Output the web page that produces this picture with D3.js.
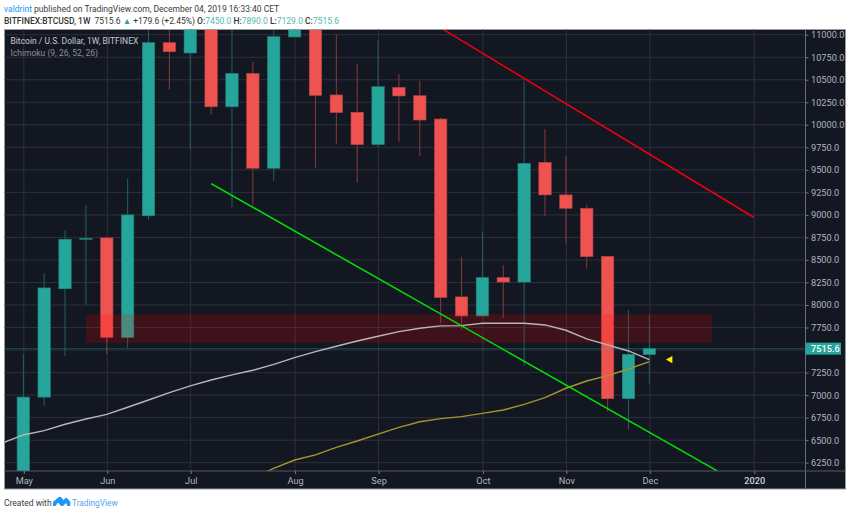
<!DOCTYPE html>
<html><head><meta charset="utf-8">
<script src="https://cdnjs.cloudflare.com/ajax/libs/d3/7.8.5/d3.min.js"></script>
<style>
html,body{margin:0;padding:0;background:#fff}
svg{display:block}
text{font-family:Roboto,sans-serif}
</style></head><body><svg id="c" width="850" height="514"></svg>
<script>
// weekly bars, index 0 = week of 2019-05-06
const weeks=["2019-05-06","2019-05-13","2019-05-20","2019-05-27","2019-06-03","2019-06-10","2019-06-17","2019-06-24","2019-07-01","2019-07-08","2019-07-15","2019-07-22","2019-07-29","2019-08-05","2019-08-12","2019-08-19","2019-08-26","2019-09-02","2019-09-09","2019-09-16","2019-09-23","2019-09-30","2019-10-07","2019-10-14","2019-10-21","2019-10-28","2019-11-04","2019-11-11","2019-11-18","2019-11-25","2019-12-02"];
const opens =[5750,6978,8180,8730,8745,7640,8990,10912,10797,11400,10200,10570,9518,10975,11400,10331,10139,9780,10415,10323,10064,8090,7878,8305,8255,9583,9222,9073,8540,6960,7450];
const closes=[6978,8190,8730,8740,7640,9000,10912,10811,11400,10200,10570,9518,10978,11400,10327,10135,9780,10423,10320,10053,8083,7878,8305,8255,9572,9222,9073,8536,6960,7453,7515.6];
const highs =[7455,8350,8830,9110,8745,9405,11300,11400,11500,11500,11500,10697,11400,11800,11500,10998,10675,10937,10563,10490,10078,8535,8820,8440,10490,9953,9652,9113,8540,7942,7890];
const lows  =[5700,6880,7430,8000,7455,7520,8945,10390,9725,10116,9085,9103,9375,10975,9525,9783,9358,9750,9812,9654,7795,7730,7878,7855,7325,8983,8686,8405,6815,6615,7129];
const whiteIdx=[-1,0,1,2,3,4,5,6,7,8,9,10,11,12,13,14,15,16,17,18,19,20,21,22,23,24,25,26,27,28,29,30];
const whiteLine=[6470,6558,6606,6677,6735,6787,6865,6946,7028,7102,7168,7224,7276,7342,7416,7483,7542,7601,7653,7705,7742,7768,7771,7797,7797,7797,7779,7720,7624,7557,7490,7394];
const yellowIdx=[11,12,13,14,15,16,17,18,19,20,21,22,23,24,25,26,27,28,29,30];
const yellowLine=[6077,6188,6280,6336,6420,6491,6568,6642,6705,6739,6761,6798,6835,6898,6972,7076,7157,7216,7290,7372];
const priceTicks=[6250,6500,6750,7000,7250,7500,7750,8000,8250,8500,8750,9000,9250,9500,9750,10000,10250,10500,10750,11000];
const timeTickIdx=[0,4,8,13,17,22,26,30,35];
const timeTickLabels=["May","Jun","Jul","Aug","Sep","Oct","Nov","Dec","2020"];
const greenTrend=[[9,9347],[33.25,6160]];
const redTrend=[[20.12,11059],[35,8974]];
const zoneIdx=[3,33], zonePrice=[7580,7897];
const lastPrice=7515.6, markerPoint=[31,7394];

const svg=d3.select("#c");
const L=4.5,R=805.5,T=29.5,B=471,BB=489,RR=845.5;
const x=d3.scaleLinear().domain([0,35]).range([23.3,753.7]);
const y=d3.scaleLinear().domain([6250,11000]).range([462.7,34.7]);
const UP="#26a69a",DN="#ef5350";

svg.append("rect").attr("x",L).attr("y",T).attr("width",RR-L).attr("height",BB-T).attr("fill","#131722").attr("stroke","#9a9ca3").attr("stroke-width",1);
svg.append("defs").append("clipPath").attr("id","p").append("rect").attr("x",L+.5).attr("y",T+.5).attr("width",R-L-.5).attr("height",B-T-.5);

// grid
const G=svg.append("g");
G.selectAll("line.h").data(priceTicks).join("line").attr("x1",L).attr("x2",R).attr("y1",d=>y(d)).attr("y2",d=>y(d)).attr("stroke","#2d313c");
G.selectAll("line.v").data(timeTickIdx).join("line").attr("y1",T).attr("y2",B).attr("x1",d=>x(d)+.5).attr("x2",d=>x(d)+.5).attr("stroke","#2d313c");

const P=svg.append("g").attr("clip-path","url(#p)");
const n=weeks.map((w,i)=>i);
P.selectAll("line.w").data(n).join("line").attr("x1",i=>x(i)).attr("x2",i=>x(i)).attr("y1",i=>y(highs[i])).attr("y2",i=>y(lows[i]))
 .attr("stroke",i=>closes[i]>=opens[i]?"#22615f":"#8a3a3d").attr("stroke-width",1);
P.selectAll("rect.b").data(n).join("rect").attr("x",i=>x(i)-6.2).attr("width",12.4)
 .attr("y",i=>y(Math.max(opens[i],closes[i]))).attr("height",i=>Math.max(1,Math.abs(y(opens[i])-y(closes[i]))))
 .attr("fill",i=>closes[i]>=opens[i]?UP:DN).attr("stroke",i=>closes[i]>=opens[i]?"#22807a":"#b84244").attr("stroke-width",.6);

// zone
P.append("rect").attr("x",x(zoneIdx[0])).attr("width",x(zoneIdx[1])-x(zoneIdx[0])).attr("y",y(zonePrice[1])).attr("height",y(zonePrice[0])-y(zonePrice[1])).attr("fill","rgba(255,0,0,0.18)");

// last price
P.append("line").attr("x1",L).attr("x2",R).attr("y1",y(lastPrice)).attr("y2",y(lastPrice)).attr("stroke","#26a69a").attr("stroke-opacity",.75).attr("stroke-dasharray","1 1");

// indicator lines
const ln=d3.line().x(d=>x(d[0])).y(d=>y(d[1]));
P.append("path").attr("d",ln(whiteIdx.map((k,i)=>[k,whiteLine[i]]))).attr("fill","none").attr("stroke","#b9b6bb").attr("stroke-width",1.4);
P.append("path").attr("d",ln(yellowIdx.map((k,i)=>[k,yellowLine[i]]))).attr("fill","none").attr("stroke","#a8942e").attr("stroke-width",1.4);
P.append("path").attr("d",ln(greenTrend)).attr("fill","none").attr("stroke","#00e600").attr("stroke-width",1.5);
P.append("path").attr("d",ln(redTrend)).attr("fill","none").attr("stroke","#f0000a").attr("stroke-width",1.5);
P.append("path").attr("d",d3.symbol().type(d3.symbolTriangle).size(24)()).attr("transform",`translate(${x(markerPoint[0])},${y(markerPoint[1])}) rotate(-90)`).attr("fill","#ffea00");

// axes
const yAxis=d3.axisRight(y).tickValues(priceTicks).tickSize(3).tickFormat(d3.format(".1f"));
const ya=svg.append("g").attr("transform",`translate(${R},0)`).call(yAxis);
ya.select(".domain").remove();
ya.selectAll("line").attr("stroke","#787b86");
ya.selectAll("text").attr("fill","#b2b5be").attr("font-size",9.2).attr("x",5.5);
svg.append("line").attr("x1",R).attr("x2",R).attr("y1",T).attr("y2",BB).attr("stroke","#6a6d78");
svg.append("line").attr("x1",L).attr("x2",RR).attr("y1",B).attr("y2",B).attr("stroke","#55585f");
const xAxis=d3.axisBottom(x).tickValues(timeTickIdx).tickSize(3).tickFormat((d,i)=>timeTickLabels[i]);
const xa=svg.append("g").attr("transform",`translate(0.5,${B})`).call(xAxis);
xa.select(".domain").remove();
xa.selectAll("line").attr("stroke","#787b86");
xa.selectAll("text").attr("fill",(d,i)=>timeTickLabels[i]==="2020"?"#d1d4dc":"#b2b5be").attr("font-size",9.2).attr("y",6).attr("font-weight",(d,i)=>timeTickLabels[i]==="2020"?500:400);

// price label
const py=y(lastPrice);
svg.append("rect").attr("x",R).attr("y",py-6).attr("width",35.5).attr("height",12).attr("fill","#26a69a");
svg.append("text").attr("x",R+5.5).attr("y",py+3.2).attr("fill","#fff").attr("font-size",9.2).attr("font-weight",500).text(lastPrice.toFixed(1));

// legends in chart
svg.append("text").attr("x",10.5).attr("y",44).attr("fill","#c8cad2").attr("font-size",8.5).text("Bitcoin / U.S. Dollar, 1W, BITFINEX");
svg.append("text").attr("x",10.5).attr("y",56).attr("fill","#8b8e98").attr("font-size",8.5).text("Ichimoku (9, 26, 52, 26)");

// header
const h1=svg.append("text").attr("x",4).attr("y",12).attr("font-size",8.5).attr("fill","#3b3b3b");
h1.append("tspan").attr("fill","#2196f3").text("valdrint");
h1.append("tspan").text(" published on TradingView.com, December 04, 2019 16:33:40 CET");
const h2=svg.append("text").attr("x",4).attr("y",24).attr("font-size",8.5).attr("fill","#333");
h2.append("tspan").attr("font-weight",500).text("BITFINEX:BTCUSD, 1W");
h2.append("tspan").attr("dx",4).text("7515.6 ");
h2.append("tspan").attr("fill","#26a69a").text("▲");
h2.append("tspan").text(" +179.6 (+2.45%) ");
[["O:","7450.0"],["H:","7890.0"],["L:","7129.0"],["C:","7515.6"]].forEach(p=>{
  h2.append("tspan").attr("font-weight",500).text(p[0]);
  h2.append("tspan").attr("fill","#53b9ae").text(p[1]+" ");
});

// footer
const footerY=506;
svg.append("text").attr("x",4).attr("y",footerY).attr("font-size",8.5).attr("fill","#3b3b3b").text("Created with");
svg.append("path").attr("d","M53 506 L53 503 Q53 500.500 55.500 500 L58 497.500 Q60 496 61.500 497.500 L63.500 500 L65.500 498 Q66.500 497.500 67.500 498.500 L70 501.500 Q71 504 70 506 L67.500 506 L66 503 L63.500 505.500 Q62 506.500 60.500 505.500 L58 502.500 L55.500 506 Z").attr("fill","#2196f3");
svg.append("text").attr("x",72).attr("y",footerY).attr("font-size",8.3).attr("fill","#4da6f0").text("TradingView");
</script></body></html>
